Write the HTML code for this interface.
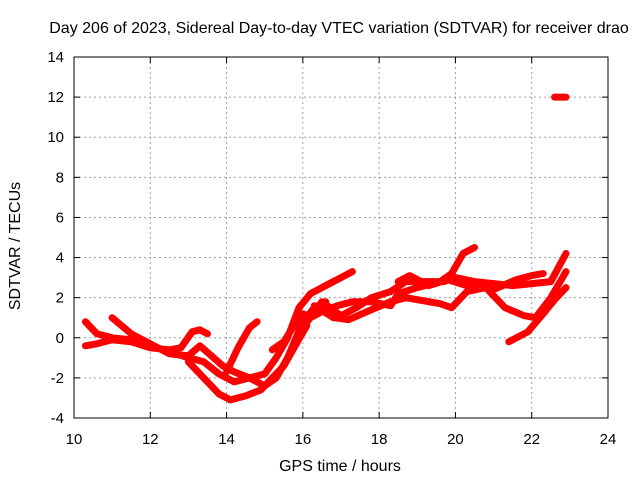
<!DOCTYPE html>
<html><head><meta charset="utf-8"><style>
body{margin:0;background:#fff}
svg text{font-family:"Liberation Sans",sans-serif;font-size:15px;fill:#000}
svg text.big{font-size:16px}
</style></head><body>
<svg id="chart" width="640" height="480" xmlns="http://www.w3.org/2000/svg">
<rect width="640" height="480" fill="#fff"/>
<text class="big" x="339" y="33" text-anchor="middle">Day 206 of 2023, Sidereal Day-to-day VTEC variation (SDTVAR) for receiver drao</text>
<text class="big" x="340" y="471" text-anchor="middle">GPS time / hours</text>
<text class="big" transform="translate(20,246) rotate(-90)" text-anchor="middle">SDTVAR / TECUs</text>
<g id="grid"></g>
<g id="series"></g>
<rect x="74" y="57" width="534" height="361" fill="none" stroke="#000" stroke-width="1"/>
<g id="ticks"></g>
</svg>
<script>
const xTicks=[10,12,14,16,18,20,22,24];
const yTicks=[-4,-2,0,2,4,6,8,10,12,14];
const trackA=[[10.3,0.8],[10.6,0.2],[11,0],[11.5,-0.1],[12,-0.4],[12.5,-0.7],[13,-1.0],[13.4,-1.2],[13.8,-1.8],[14.2,-2.2],[14.6,-2.0],[15,-1.8],[15.3,-1.0],[15.6,0],[15.9,1.5],[16.2,2.2],[16.6,2.6],[17,3.0],[17.3,3.3]];
const trackB=[[10.3,-0.4],[10.6,-0.3],[11,-0.1],[11.5,-0.2],[12,-0.5],[12.5,-0.6],[12.8,-0.5],[13.1,0.3],[13.3,0.4],[13.5,0.2]];
const trackC=[[11,1.0],[11.5,0.2],[12,-0.3],[12.5,-0.8],[13,-0.9],[13.3,-0.4],[13.6,-0.9],[13.9,-1.4],[14.2,-1.7],[14.6,-2.0],[15,-2.4],[15.3,-2.0],[15.6,-1.0],[16,0.8],[16.3,1.5],[16.6,1.8]];
const trackD=[[13,-1.2],[13.5,-2.2],[13.8,-2.8],[14.1,-3.1],[14.5,-2.9],[14.9,-2.6],[15.2,-2.0],[15.5,-1.4],[15.8,-0.4],[16.1,0.6]];
const trackE=[[14,-1.7],[14.3,-0.5],[14.6,0.5],[14.8,0.8]];
const trackF=[[15.2,-0.6],[15.5,-0.2],[15.7,0.4],[16,1.2],[16.2,1.0],[16.5,1.3],[16.9,1.6],[17.3,1.8],[17.8,1.8],[18.3,1.6],[18.5,2.2],[19,2.5],[19.6,2.8],[19.9,3.2],[20.2,4.2],[20.5,4.5]];
const trackG=[[16,0.5],[16.5,1.8],[17,1.1],[17.4,1.5],[17.8,2.0],[18.3,2.3],[18.7,2.8],[19.2,2.8],[19.7,2.8],[20,3.0],[20.5,2.8],[21,2.7],[21.5,2.6],[22,2.7],[22.5,2.8],[22.9,4.2]];
const trackH=[[16.3,1.6],[16.8,1.0],[17.2,0.9],[17.8,1.4],[18.3,1.8],[18.7,2.0],[19.3,1.8],[19.6,1.7],[19.9,1.5],[20.3,2.3],[20.8,2.5],[21.3,1.5],[21.8,1.1],[22.1,1.0],[22.5,2.0],[22.9,3.3]];
const trackI=[[21.4,-0.2],[21.9,0.3],[22.3,1.2],[22.6,1.9],[22.9,2.5]];
const trackJ=[[18.5,2.8],[18.8,3.1],[19.3,2.6],[19.8,2.9],[20.3,2.6],[21,2.4],[21.6,2.9],[22,3.1],[22.3,3.2]];
const trackK=[[22.6,12.0],[22.9,12.0]];
const tracks=[trackA,trackB,trackC,trackD,trackE,trackF,trackG,trackH,trackI,trackJ,trackK];
const X0=74,X1=608,Y0=418,Y1=57;
const xs=h=>X0+(h-10)/14*(X1-X0);
const ys=v=>Y0-(v+4)/18*(Y0-Y1);
const NS="http://www.w3.org/2000/svg";
const grid=document.getElementById('grid'),ticks=document.getElementById('ticks'),ser=document.getElementById('series');
function mk(tag,attrs,parent){const e=document.createElementNS(NS,tag);for(const k in attrs)e.setAttribute(k,attrs[k]);parent.appendChild(e);return e;}
xTicks.forEach(t=>{const x=xs(t);
 if(t>10&&t<24){const g=mk('line',{x1:x,x2:x,y1:Y1,y2:Y0,stroke:'#a0a0a0','stroke-dasharray':'2,3'},grid);
 
 }
 const tl=mk('line',{x1:x,x2:x,y1:Y0,y2:Y0-6,stroke:'#000'},ticks);
 
 
 const tt=mk('line',{x1:x,x2:x,y1:Y1,y2:Y1+6,stroke:'#000'},ticks);
 
 
 const lb=mk('text',{x:x,y:Y0+26,'text-anchor':'middle'},ticks);lb.textContent=t;
 
 
});
yTicks.forEach(t=>{const y=ys(t);
 if(t>-4&&t<14){const g=mk('line',{x1:X0,x2:X1,y1:y,y2:y,stroke:'#a0a0a0','stroke-dasharray':'2,3'},grid);
 
 }
 const tl=mk('line',{x1:X0,x2:X0+6,y1:y,y2:y,stroke:'#000'},ticks);
 
 
 const tr=mk('line',{x1:X1,x2:X1-6,y1:y,y2:y,stroke:'#000'},ticks);
 
 
 const lb=mk('text',{x:X0-10,y:y+5,'text-anchor':'end'},ticks);lb.textContent=t;
 
 
});
tracks.forEach(tr=>{
 const p=mk('polyline',{points:tr.map(d=>xs(d[0]).toFixed(1)+','+ys(d[1]).toFixed(1)).join(' '),fill:'none',stroke:'#ff0000','stroke-width':7,'stroke-linejoin':'round','stroke-linecap':'round'},ser);
 
 
});
</script>
</body></html>
